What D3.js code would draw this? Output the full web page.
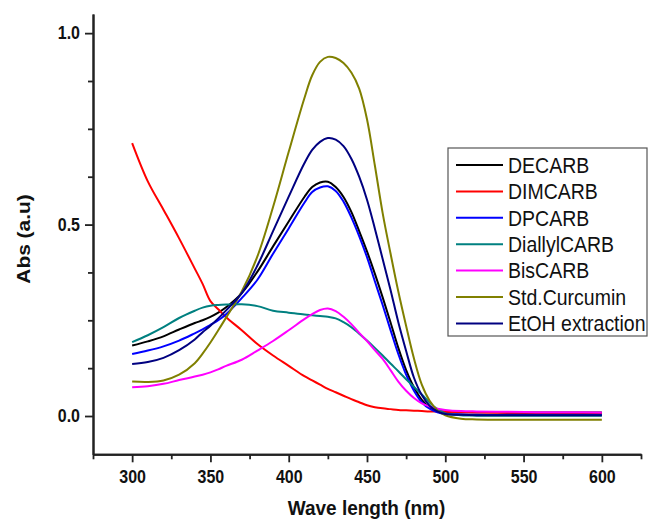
<!DOCTYPE html>
<html>
<head>
<meta charset="utf-8">
<script src="https://cdn.jsdelivr.net/npm/d3@7"></script>
<style>
  html, body { margin: 0; padding: 0; background: #fff; }
  svg { display: block; }
</style>
</head>
<body>
<svg id="chart" width="649" height="521"></svg>
<script>
// ---- data ----
const wavelength = [300,310,320,330,340,345,350,355,360,370,380,390,400,410,415,420,425,430,435,440,445,450,455,460,465,470,475,480,485,490,495,500,510,520,540,560,580,600];

const seriesNames = ["DECARB","DIMCARB","DPCARB","DiallylCARB","BisCARB","Std.Curcumin","EtOH extraction"];
const seriesColors = ["#000000","#ff0000","#0000ff","#008080","#ff00ff","#808000","#000080"];

const decarb = [.184,.195,.208,.226,.243,.250,.259,.270,.284,.321,.377,.443,.508,.572,.598,.610,.612,.598,.572,.533,.483,.430,.372,.310,.245,.178,.120,.075,.042,.022,.014,.011,.010,.010,.010,.009,.009,.009];
const dimcarb = [.713,.613,.539,.464,.385,.345,.300,.279,.258,.224,.188,.158,.131,.104,.093,.082,.071,.062,.053,.044,.036,.028,.023,.020,.018,.016,.015,.014,.013,.012,.012,.011,.010,.009,.008,.007,.007,.006];
const dpcarb = [.162,.171,.182,.197,.216,.226,.238,.250,.266,.308,.356,.424,.490,.557,.585,.597,.600,.588,.560,.519,.470,.415,.352,.290,.225,.162,.108,.066,.036,.019,.010,.006,.004,.003,.003,.003,.003,.003];
const diallylcarb = [.193,.211,.232,.256,.275,.283,.288,.290,.291,.292,.287,.275,.270,.265,.263,.261,.259,.255,.245,.232,.215,.197,.178,.158,.137,.117,.096,.076,.056,.035,.018,.007,.002,.001,.001,.001,.001,.001];
const biscarb = [.075,.078,.084,.094,.103,.108,.114,.122,.131,.147,.171,.196,.224,.253,.266,.277,.281,.274,.259,.240,.217,.196,.172,.149,.120,.090,.066,.047,.033,.025,.019,.016,.013,.012,.011,.010,.010,.009];
const stdCurcumin = [.090,.089,.093,.108,.138,.163,.192,.224,.257,.325,.417,.546,.690,.830,.890,.925,.938,.935,.922,.897,.855,.775,.655,.530,.425,.325,.235,.150,.082,.040,.015,.002,-.007,-.009,-.010,-.010,-.010,-.010];
const etohExtraction = [.136,.141,.152,.172,.200,.219,.236,.255,.276,.321,.393,.483,.573,.660,.695,.716,.726,.722,.705,.672,.625,.565,.490,.410,.330,.245,.170,.100,.055,.027,.012,.005,.003,.002,.002,.002,.002,.002];

const seriesValues = [decarb, dimcarb, dpcarb, diallylcarb, biscarb, stdCurcumin, etohExtraction];

const xMajorTicks = [300,350,400,450,500,550,600];
const xMinorTicks = [275,325,375,425,475,525,575,625];
const yMajorTicks = [0.0,0.5,1.0];
const yMinorTicks = [0.125,0.25,0.375,0.625,0.75,0.875];

// ---- layout ----
const svg = d3.select("#chart");
const mLeft = 93, mRight = 641, mTop = 14, mBottom = 454.3;
const stretch = 1.1; // text in the reference is slightly taller than wide

const x = d3.scaleLinear().domain([275,625]).range([mLeft,mRight]);
const y = d3.scaleLinear().domain([-0.1,1.05]).range([mBottom,mTop]);

const font = "'Liberation Sans', Arial, Helvetica, sans-serif";

// curves
const line = d3.line()
  .x((d,i) => x(wavelength[i]))
  .y(d => y(d))
  .curve(d3.curveCatmullRom.alpha(0.5));

const plot = svg.append("g");
seriesValues.forEach((vals,k) => {
  plot.append("path")
    .datum(vals)
    .attr("d", line)
    .attr("fill","none")
    .attr("stroke", seriesColors[k])
    .attr("stroke-width", 2)
    .attr("stroke-linejoin","round");
});

// axes
function styleAxis(g){
  g.select(".domain").attr("stroke","#222").attr("stroke-width",2);
  g.selectAll(".tick line").attr("stroke","#222").attr("stroke-width",1.8);
  g.selectAll("text").attr("font-family",font).attr("font-weight","bold")
    .attr("font-size","16px").attr("fill","#111")
    .attr("transform",`scale(1,${stretch})`);
}

const xAxisMinor = svg.append("g").attr("transform",`translate(0,${mBottom})`)
  .call(d3.axisBottom(x).tickValues(xMinorTicks).tickSize(5).tickFormat("").tickSizeOuter(0));
styleAxis(xAxisMinor);
const xAxis = svg.append("g").attr("transform",`translate(0,${mBottom})`)
  .call(d3.axisBottom(x).tickValues(xMajorTicks).tickSize(8).tickPadding(6.7).tickFormat(d3.format("d")).tickSizeOuter(0));
styleAxis(xAxis);

const yAxisMinor = svg.append("g").attr("transform",`translate(${mLeft},0)`)
  .call(d3.axisLeft(y).tickValues(yMinorTicks).tickSize(5).tickFormat("").tickSizeOuter(0));
styleAxis(yAxisMinor);
const yAxis = svg.append("g").attr("transform",`translate(${mLeft},0)`)
  .call(d3.axisLeft(y).tickValues(yMajorTicks).tickSize(8).tickPadding(5).tickFormat(d3.format(".1f")).tickSizeOuter(0));
styleAxis(yAxis);

// axis titles
svg.append("text")
  .attr("transform",`translate(366.5,515) scale(1,${stretch})`)
  .attr("text-anchor","middle")
  .attr("font-family",font).attr("font-weight","bold").attr("font-size","19px")
  .attr("fill","#111")
  .text("Wave length (nm)");

svg.append("text")
  .attr("transform",`translate(30,239) rotate(-90) scale(${stretch},1)`)
  .attr("text-anchor","middle")
  .attr("font-family",font).attr("font-weight","bold").attr("font-size","19px")
  .attr("fill","#111")
  .text("Abs (a.u)");

// legend
const legend = svg.append("g");
legend.append("rect")
  .attr("x",448).attr("y",148).attr("width",199).attr("height",188)
  .attr("fill","#fff").attr("stroke","#555").attr("stroke-width",1.2);
seriesNames.forEach((name,i) => {
  const yy = 165 + i*26.4;
  legend.append("line")
    .attr("x1",456).attr("x2",503).attr("y1",yy).attr("y2",yy)
    .attr("stroke",seriesColors[i]).attr("stroke-width",2);
  legend.append("text")
    .attr("transform",`translate(508,${yy}) scale(1,${stretch})`)
    .attr("dy","0.36em")
    .attr("font-family",font).attr("font-size","19.5px").attr("fill","#111")
    .text(name);
});
</script>
</body>
</html>
